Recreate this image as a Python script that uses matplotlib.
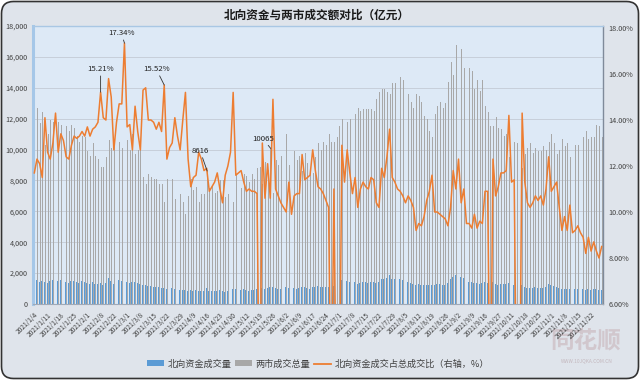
import matplotlib
matplotlib.use('Agg')
import matplotlib.pyplot as plt
from matplotlib.patches import FancyBboxPatch, Patch
from matplotlib.lines import Line2D
import numpy as np

plt.rcParams['font.family'] = ['Noto Sans CJK SC', 'DejaVu Sans']

title = '北向资金与两市成交额对比（亿元）'
legend_labels = ['北向资金成交量', '两市成交总量', '北向资金成交占总成交比（右轴，%）']

# trading days (category axis)
trading_days = {
    1: [4, 5, 6, 7, 8, 11, 12, 13, 14, 15, 18, 19, 20, 21, 22, 25, 26, 27, 28, 29],
    2: [1, 2, 3, 4, 5, 8, 9, 10, 18, 19, 22, 23, 24, 25, 26],
    3: [1, 2, 3, 4, 5, 8, 9, 10, 11, 12, 15, 16, 17, 18, 19, 22, 23, 24, 25, 26, 29, 30, 31],
    4: [7, 8, 9, 12, 13, 14, 15, 16, 19, 20, 21, 22, 23, 26, 27, 28, 29, 30],
    5: [6, 7, 10, 11, 12, 13, 14, 17, 18, 19, 20, 21, 24, 25, 26, 27, 28, 31],
    6: [1, 2, 3, 4, 7, 8, 9, 10, 11, 15, 16, 17, 18, 21, 22, 23, 24, 25, 28, 29, 30],
    7: [1, 2, 5, 6, 7, 8, 9, 12, 13, 14, 15, 16, 19, 20, 21, 22, 23, 26, 27, 28, 29, 30],
    8: [2, 3, 4, 5, 6, 9, 10, 11, 12, 13, 16, 17, 18, 19, 20, 23, 24, 25, 26, 27, 30, 31],
    9: [1, 2, 3, 6, 7, 8, 9, 10, 13, 14, 15, 16, 17, 22, 23, 24, 27, 28, 29, 30],
    10: [8, 11, 12, 13, 14, 15, 18, 19, 20, 21, 22, 25, 26, 27, 28, 29],
    11: [1, 2, 3, 4, 5, 8, 9, 10, 11, 12, 15, 16, 17, 18, 19, 22, 23, 24, 25, 26],
}
dates = [f'2021/{m}/{d}' for m, ds in trading_days.items() for d in ds]

# 北向资金成交量 (亿元)
northbound = [
    1480, 1560, 1420, 1510, 1450, 1380, 1470, 1530, 1400, 1490, 1550, 1460, 1420, 1380, 1500, 1520, 1440, 1390, 1470, 1430,
    1350, 1280, 1410, 1320, 1300, 1360, 1250, 1330, 1680, 1520, 1300, 1450, 1550, 1480, 1700,
    1450, 1380, 1400, 1420, 1350, 1300, 1250, 1200, 1180, 1150, 1120, 1100, 1080, 1050, 1020, 1000, 980, 1050, 960, 940, 900, 930, 880,
    860, 900, 850, 880, 830, 870, 840, 1025, 820, 860, 810, 850, 880, 830, 800, 850, 900, 1000,
    980, 920, 880, 950, 900, 870, 920, 880, 950, 0, 1020, 980, 1050, 1070, 1080, 1020, 960, 1000,
    1050, 1100, 1020, 980, 1060, 1000, 1040, 1080, 1120, 1050, 1000, 1080, 1120, 1150, 1100, 1130, 1080, 1120, 0, 1150, 0,
    0, 1550, 1420, 1500, 1400, 1330, 1420, 1300, 1380, 1420, 1400, 1390, 1450, 1430, 1380, 1400, 1650, 1600, 1700, 1850, 1650, 1620,
    1650, 1600, 1550, 1500, 1450, 1380, 1300, 1250, 1280, 1230, 1200, 1260, 1220, 1250, 1230, 1280, 1300, 1240, 1260, 1350, 1600, 1750,
    1850, 1800, 1720, 1680, 1550, 1450, 1400, 1380, 1350, 1320, 1380, 1400, 1350, 0, 1420, 1300, 1260, 1320, 1280, 1300,
    1350, 1280, 1200, 0, 0, 1260, 1100, 1050, 1060, 1020, 1080, 1040, 1060, 1050, 1100, 1300,
    1200, 1150, 1100, 1020, 980, 1000, 960, 980, 1000, 950, 970, 940, 960, 920, 950, 900, 940, 960, 920, 900,
]

# 两市成交总量 (亿元)
total = [
    12600, 12700, 11700, 12400, 10300, 11000, 11900, 11800, 9800, 11800, 11600, 11100, 11500, 11200, 11600, 11400, 10900, 10500, 10900, 10800,
    9900, 9600, 10400, 9600, 9400, 8900, 8900, 9500, 10600, 10100, 10200, 10400, 10500, 10100, 9800,
    10600, 10000, 11000, 9700, 10000, 10200, 8200, 7800, 8400, 8200, 8100, 8100, 7800, 7800, 6600, 8100, 7700, 8100, 6800, 7100, 7100, 6600, 5800,
    7000, 8100, 7400, 7600, 6600, 7100, 7100, 8616, 7500, 7700, 7200, 7300, 8000, 8000, 6900, 7100, 7100, 6600,
    8400, 7900, 7500, 8400, 8300, 7900, 8400, 8100, 8800, 8900, 7800, 9200, 8700, 10065, 7200, 9300, 9000, 9600,
    10300, 11000, 9000, 9900, 9900, 9300, 9600, 8600, 9800, 9100, 8600, 8500, 9500, 10400, 10000, 10500, 10300, 11000, 10500, 10500, 10800,
    11500, 12000, 12600, 11800, 12000, 12300, 12300, 12700, 12500, 12600, 12600, 12600, 12600, 12500, 13300, 13700, 13900, 13900, 13700, 13600, 14300, 14300,
    15000, 14700, 14500, 14400, 13600, 13100, 12700, 13600, 13500, 13100, 12200, 12000, 11200, 10800, 12300, 12800, 13100, 12700, 13000, 14400, 15700, 14800,
    16800, 14600, 16500, 15300, 16300, 15300, 15100, 13900, 14500, 13800, 14500, 12800, 12400, 11500, 11500, 12100, 11400, 11300, 10900, 11000,
    9500, 11300, 10500, 10400, 10200, 8800, 9700, 10100, 10400, 9800, 10100, 9900, 9900, 10200, 10000, 10500,
    11000, 10400, 9700, 10000, 10700, 10200, 10400, 9500, 11000, 10300, 10300, 10300, 10800, 11200, 10700, 10800, 10800, 11600, 11500, 10800,
]

# 北向资金成交占总成交比 (%)
ratio = [
    11.7, 12.3, 12.1, 11.5, 14.1, 12.6, 12.3, 13.0, 14.3, 12.6, 13.4, 13.1, 12.4, 12.3, 12.9, 13.3, 13.2, 13.3, 13.5, 13.3,
    13.7, 13.3, 13.6, 13.7, 13.9, 15.21, 14.1, 14.0, 15.8, 15.0, 12.7, 13.9, 14.7, 14.7, 17.34,
    13.7, 13.8, 12.7, 14.6, 13.5, 12.7, 15.3, 15.4, 14.0, 14.0, 13.9, 13.6, 13.9, 13.5, 15.52, 12.3, 12.8, 13.0, 14.1, 13.3, 12.7, 14.0, 15.2,
    12.3, 11.1, 11.5, 11.6, 12.6, 12.3, 11.8, 11.9, 10.9, 11.1, 11.3, 11.7, 11.0, 10.4, 11.6, 12.0, 12.6, 15.2,
    11.6, 11.7, 11.8, 11.3, 10.9, 11.0, 10.9, 10.9, 10.8, 0, 13.0, 10.6, 12.1, 10.6, 14.9, 11.0, 10.7, 10.4,
    10.2, 10.0, 11.3, 9.9, 10.7, 10.8, 10.8, 12.5, 11.4, 11.5, 11.6, 12.7, 11.8, 11.1, 11.0, 10.8, 10.5, 10.2, 0, 11.0, 0,
    0, 12.9, 11.3, 12.7, 11.7, 10.8, 11.5, 10.2, 11.0, 11.3, 11.1, 11.0, 11.5, 11.4, 10.4, 10.2, 11.9, 11.5, 12.4, 13.6, 11.5, 11.3,
    11.0, 10.9, 10.7, 10.4, 10.7, 10.5, 10.2, 9.2, 9.5, 9.4, 9.8, 10.5, 10.9, 11.6, 10.0, 10.0, 9.9, 9.8, 9.7, 9.4, 10.2, 11.8,
    11.0, 12.3, 10.4, 11.0, 9.5, 9.5, 9.3, 9.9, 9.3, 9.6, 9.5, 10.9, 10.9, 0, 12.3, 10.7, 11.1, 11.7, 11.7, 11.8,
    14.2, 11.3, 11.4, 0, 0, 14.3, 11.3, 10.4, 10.2, 10.4, 10.7, 10.5, 10.7, 10.3, 11.0, 12.4,
    10.9, 11.1, 11.3, 10.2, 9.2, 9.8, 9.2, 10.3, 9.1, 9.2, 9.4, 9.1, 8.9, 8.2, 8.9, 8.3, 8.7, 8.3, 8.0, 8.5,
]

left_ticks = [0, 2000, 4000, 6000, 8000, 10000, 12000, 14000, 16000, 18000]
right_ticks = [6, 8, 10, 12, 14, 16, 18]

# annotations: (index, text, offset px)
pct_labels = [(34, '17.34%', (-3, 6)), (25, '15.21%', (0, 19)), (49, '15.52%', (-8, 12))]
vol_labels = [(65, '8616', (-7, 16)), (89, '10065', (-8, 6))]

C_BLUE = '#5b9bd5'
C_GRAY = '#a8a8a8'
C_ORANGE = '#ed7d31'
C_TXT = '#404040'

W, H = 640, 380
fig = plt.figure(figsize=(W / 100, H / 100), dpi=100)
fig.patch.set_facecolor('white')
bg = FancyBboxPatch((0.015, 0.015), W / 100 - 0.03, H / 100 - 0.03,
                    boxstyle='round,pad=0,rounding_size=0.12',
                    transform=fig.dpi_scale_trans, facecolor='#dfe4eb',
                    edgecolor='#333333', linewidth=1.2, zorder=-10)
fig.patches.append(bg)

ax = fig.add_axes([33 / W, 1 - 304 / H, 570 / W, 278 / H])
ax.set_facecolor('#dde9f6')
n = len(dates)
x = np.arange(n)
bw = 0.34
ax.bar(x - 0.19, northbound, width=bw, color=C_BLUE, linewidth=0, zorder=2)
ax.bar(x + 0.19, total, width=bw, color=C_GRAY, linewidth=0, zorder=2)
ax.set_xlim(-0.5, n - 0.5)
ax.set_ylim(0, 18000)
ax.set_yticks(left_ticks)
ax.set_yticklabels([f'{v:,}' for v in left_ticks], fontsize=5.2, color=C_TXT)
ax.yaxis.grid(True, color='#c3cbd5', lw=0.6)
ax.set_axisbelow(True)
ax.set_xticks(x[::5])
ax.set_xticklabels(dates[::5], rotation=45, ha='right', va='top',
                   rotation_mode='anchor', fontsize=4.8, color=C_TXT)
ax.tick_params(axis='both', length=0)
ax.tick_params(axis='y', pad=4)
ax.tick_params(axis='x', pad=5)
ax.spines['left'].set_color('#a5c7e8')
ax.spines['left'].set_linewidth(2.2)
ax.spines['top'].set_color('#a9c7e4')
ax.spines['top'].set_linewidth(1.0)
ax.spines['right'].set_color('#7f8a9a')
ax.spines['right'].set_linewidth(1.0)
ax.spines['bottom'].set_color('#a0aab8')
ax.spines['bottom'].set_linewidth(0.8)

ax2 = ax.twinx()
ax2.plot(x, ratio, color=C_ORANGE, lw=1.1, zorder=3)
ax2.set_ylim(6, 18.087)
ax2.set_yticks(right_ticks)
ax2.set_yticklabels([f'{v:.2f}%' for v in right_ticks], fontsize=5.2, color=C_TXT)
ax2.tick_params(axis='y', length=0, pad=4)
for s in ax2.spines.values():
    s.set_visible(False)

for idx, txt, (dx, dy) in pct_labels:
    ax2.annotate(txt, xy=(idx, ratio[idx]), xytext=(dx, dy), textcoords='offset pixels',
                 ha='center', va='bottom', fontsize=5.6, color='#222222', zorder=5,
                 arrowprops=dict(arrowstyle='-', color='#333333', lw=0.6, shrinkA=0, shrinkB=0))

for idx, txt, (dx, dy) in vol_labels:
    ax2.annotate(txt, xy=(idx + 0.19, total[idx]), xycoords=ax.transData,
                 xytext=(dx, dy), textcoords='offset pixels',
                 ha='center', va='bottom', fontsize=5.6, color='#222222', zorder=5,
                 arrowprops=dict(arrowstyle='-', color='#333333', lw=0.6, shrinkA=0, shrinkB=0))

fig.text(317 / W, 1 - 15 / H, title, ha='center', va='center', fontsize=8.4,
         fontweight='bold', color='#1a1a1a')

handles = [Patch(facecolor=C_BLUE, edgecolor='none'),
           Patch(facecolor=C_GRAY, edgecolor='none'),
           Line2D([], [], color=C_ORANGE, lw=1.3)]
leg = fig.legend(handles, legend_labels, loc='center', bbox_to_anchor=(318 / W, 1 - 364 / H),
                 ncol=3, frameon=False, fontsize=6.6, handlelength=1.9, handleheight=0.6,
                 handletextpad=0.35, columnspacing=0.4, labelcolor=C_TXT)

# watermark
fig.text(586 / W, 1 - 341 / H, '同花顺', ha='center', va='center', fontsize=17,
         fontweight='bold', style='italic', color='#cfc2c8', alpha=0.85, zorder=-5)
fig.text(587 / W, 1 - 361 / H, 'WWW.10JQKA.COM.CN', ha='center', va='center',
         fontsize=3.5, color='#c4b8be', zorder=-5)

fig.savefig('out.png', dpi=100, facecolor=fig.get_facecolor())
